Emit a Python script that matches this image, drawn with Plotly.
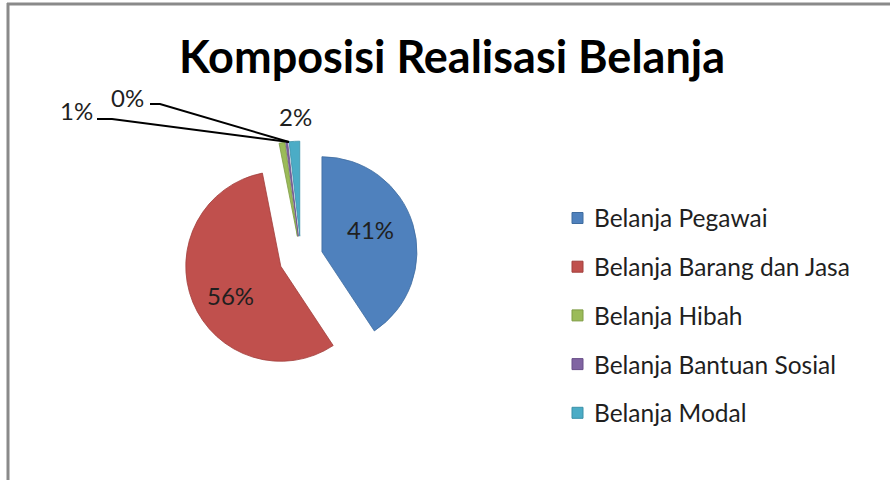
import plotly.graph_objects as go

W, H = 890, 480

categories = ["Belanja Pegawai", "Belanja Barang dan Jasa", "Belanja Hibah",
              "Belanja Bantuan Sosial", "Belanja Modal"]
values = [40.7, 56.2, 1.0, 0.3, 1.8]
colors = ["#4F81BD", "#C0504D", "#9BBB59", "#8064A2", "#4BACC6"]
edge_colors = ["#3F6C9F", "#A23F3C", "#7F9C45", "#684F88", "#3A90A8"]
title_text = "Komposisi Realisasi Belanja"

FONT = "Lato"
TXT = "#1f1f1f"


def px(x):
    return x / W


def py(y):
    return 1 - y / H


total = sum(values)
pct_text = [f"{round(v / total * 100)}%" for v in values]

# pie geometry (pixel space)
cx, cy, r, pull = 301, 258, 95, 0.23
half = r * (1 + pull)

fig = go.Figure()
fig.add_trace(go.Pie(
    labels=categories,
    values=values,
    sort=False,
    direction="clockwise",
    rotation=0,
    pull=[pull] * len(values),
    marker=dict(colors=colors, line=dict(color=edge_colors, width=0.8)),
    textinfo="none",
    hoverinfo="label+percent",
    showlegend=False,
    domain=dict(x=[px(cx - half), px(cx + half)],
                y=[py(cy + half), py(cy - half)]),
))

shapes = []
annotations = []

# chart-area border (top and left edges visible)
shapes.append(dict(type="line", xref="paper", yref="paper",
                   x0=px(7), x1=px(892), y0=py(4), y1=py(4),
                   line=dict(color="#8a8a8a", width=3)))
shapes.append(dict(type="line", xref="paper", yref="paper",
                   x0=px(8), x1=px(8), y0=py(3), y1=py(482),
                   line=dict(color="#8a8a8a", width=3)))

# data labels (percentages computed from the values)
label_pos = [(370, 229), (230, 295), (76, 111), (127, 97), (295, 116)]
for i, (lx, ly) in enumerate(label_pos):
    annotations.append(dict(x=px(lx), y=py(ly), xref="paper", yref="paper",
                            xanchor="center", yanchor="middle",
                            text=pct_text[i], showarrow=False,
                            font=dict(family=FONT, size=24, color=TXT)))

# leader lines for the small slices
apex = (289, 142)
leaders = [[(97, 119), (112, 119), apex], [(150, 104), (160, 104), apex]]
for pts in leaders:
    path = "M " + " L ".join(f"{px(x)},{py(y)}" for x, y in pts)
    shapes.append(dict(type="path", xref="paper", yref="paper", path=path,
                       line=dict(color="#000000", width=2)))

# legend (manual, to match spacing)
leg_x, leg_y0, leg_dy = 572, 218, 48.7
for i, name in enumerate(categories):
    yy = leg_y0 + i * leg_dy
    shapes.append(dict(type="rect", xref="paper", yref="paper",
                       x0=px(leg_x), x1=px(leg_x + 11),
                       y0=py(yy + 5.5), y1=py(yy - 5.5),
                       fillcolor=colors[i],
                       line=dict(color=edge_colors[i], width=1)))
    annotations.append(dict(x=px(leg_x + 20), y=py(yy), xref="paper", yref="paper",
                            xanchor="left", yanchor="middle",
                            text=name, showarrow=False,
                            font=dict(family=FONT, size=24.5, color=TXT)))

fig.update_layout(
    width=W, height=H,
    margin=dict(l=0, r=0, t=0, b=0),
    paper_bgcolor="white",
    plot_bgcolor="white",
    title=dict(text=title_text, x=px(452), xanchor="center",
               y=py(57), yanchor="middle",
               font=dict(family=FONT, size=45, color="#000000", weight="bold")),
    shapes=shapes,
    annotations=annotations,
)

fig.write_html("out.html",
               config={"displayModeBar": False},
               post_script="document.body.style.margin='0';"
                           "document.body.style.overflow='hidden';")
